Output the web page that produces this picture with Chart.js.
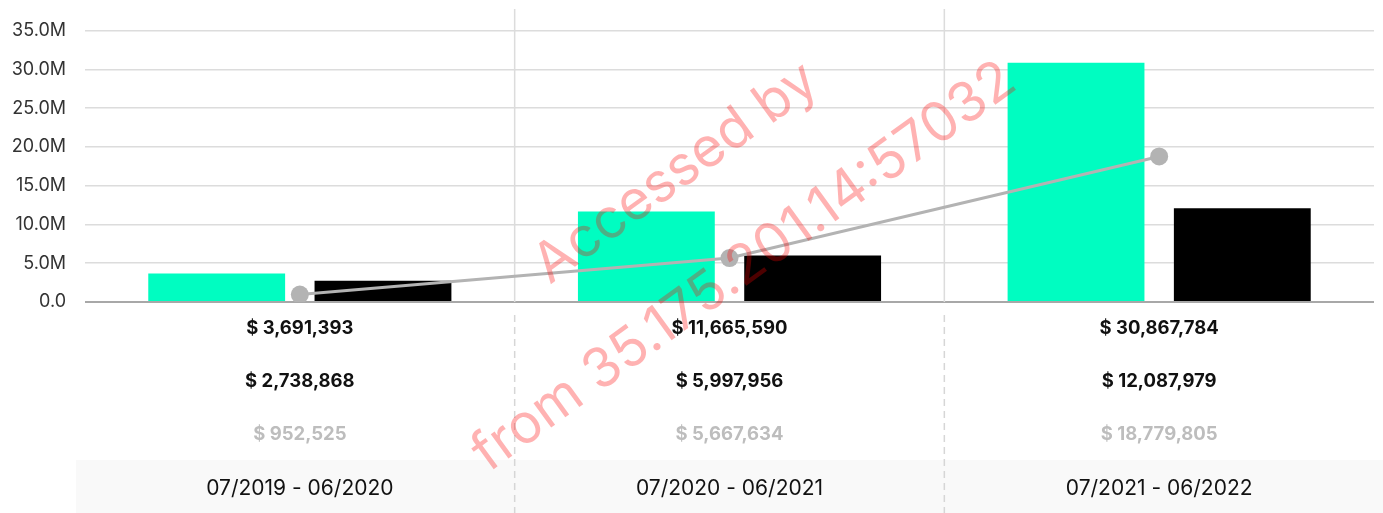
<!DOCTYPE html>
<html>
<head>
<meta charset="utf-8">
<script src="https://cdn.jsdelivr.net/npm/chart.js@4.4.1/dist/chart.umd.min.js"></script>
<style>
  html, body { margin: 0; padding: 0; background: #fff; }
  #wrap { width: 1383px; height: 513px; position: relative; }
</style>
</head>
<body>
<div id="wrap"><canvas id="c" width="1383" height="513"></canvas></div>
<script>
const categories = ['07/2019 - 06/2020', '07/2020 - 06/2021', '07/2021 - 06/2022'];
const seriesGreen = [3691393, 11665590, 30867784];
const seriesBlack = [2738868, 5997956, 12087979];
const seriesLine = [952525, 5667634, 18779805];
const yTicks = [0, 5000000, 10000000, 15000000, 20000000, 25000000, 30000000, 35000000];
const watermarkLines = ['Accessed by', 'from 35.175.201.14:57032'];

const FONT = 'Inter, Lato, sans-serif';
const fmt = v => '$ ' + v.toLocaleString('en-US');

const overlay = {
  id: 'overlay',
  beforeDatasetsDraw(chart) {
    const {ctx, chartArea: a, scales: {x}} = chart;
    ctx.save();
    ctx.strokeStyle = '#dcdcdc';
    ctx.lineWidth = 1.5;
    for (let i = 0; i < categories.length - 1; i++) {
      const px = (x.getPixelForValue(i) + x.getPixelForValue(i + 1)) / 2;
      ctx.beginPath();
      ctx.moveTo(px, a.top);
      ctx.lineTo(px, a.bottom);
      ctx.stroke();
    }
    ctx.restore();
  },
  afterDraw(chart) {
    const {ctx, chartArea: a, scales: {x}} = chart;
    const H = chart.height, W = chart.width;
    ctx.save();
    // bottom band
    ctx.fillStyle = '#f9f9f9';
    ctx.fillRect(76, 460, W - 76, H - 460);
    // dashed dividers
    ctx.strokeStyle = '#d6d6d6';
    ctx.lineWidth = 1.5;
    ctx.setLineDash([7, 5]);
    for (let i = 0; i < categories.length - 1; i++) {
      const px = (x.getPixelForValue(i) + x.getPixelForValue(i + 1)) / 2;
      ctx.beginPath();
      ctx.moveTo(px, a.bottom + 13);
      ctx.lineTo(px, H);
      ctx.stroke();
    }
    ctx.setLineDash([]);
    ctx.textAlign = 'center';
    ctx.textBaseline = 'middle';
    categories.forEach((c, i) => {
      const px = x.getPixelForValue(i);
      ctx.font = 'bold 18.5px ' + FONT;
      ctx.fillStyle = '#111';
      ctx.fillText(fmt(seriesGreen[i]), px, 328);
      ctx.fillText(fmt(seriesBlack[i]), px, 381);
      ctx.fillStyle = '#bdbdbd';
      ctx.fillText(fmt(seriesLine[i]), px, 434);
      ctx.font = '21px ' + FONT;
      ctx.fillStyle = '#111';
      ctx.fillText(c, px, 489);
    });
    // watermark
    ctx.translate(710, 220);
    ctx.rotate(-36 * Math.PI / 180);
    ctx.font = '55px ' + FONT;
    ctx.fillStyle = 'rgba(255,0,0,0.3)';
    ctx.fillText(watermarkLines[0], 0, -58);
    ctx.fillText(watermarkLines[1], 0, 58);
    ctx.restore();
  }
};

new Chart(document.getElementById('c'), {
  data: {
    labels: categories,
    datasets: [
      {
        type: 'line',
        data: seriesLine,
        borderColor: '#b3b3b3',
        backgroundColor: '#b3b3b3',
        borderWidth: 3,
        pointRadius: 9,
        pointHoverRadius: 9,
        pointBackgroundColor: '#b3b3b3',
        pointBorderWidth: 0,
        tension: 0,
        order: 0
      },
      {
        type: 'bar',
        data: seriesGreen,
        backgroundColor: '#00fdc1',
        categoryPercentage: 0.774,
        barPercentage: 0.823,
        order: 1
      },
      {
        type: 'bar',
        data: seriesBlack,
        backgroundColor: '#000000',
        categoryPercentage: 0.774,
        barPercentage: 0.823,
        order: 1
      }
    ]
  },
  options: {
    responsive: false,
    animation: false,
    devicePixelRatio: 1,
    layout: { padding: { top: 8, right: 8, bottom: 211, left: 0 } },
    plugins: { legend: { display: false }, tooltip: { enabled: false } },
    scales: {
      x: { display: false, offset: true },
      y: {
        min: 0,
        max: 37800000,
        afterBuildTicks(scale) { scale.ticks = yTicks.map(v => ({ value: v })); },
        afterFit(scale) { scale.width = 85; scale.paddingTop = 0; scale.paddingBottom = 0; },
        border: { display: false },
        grid: {
          drawTicks: false,
          color: c => (c.tick && c.tick.value === 0) ? '#a8a8a8' : '#dcdcdc',
          lineWidth: c => (c.tick && c.tick.value === 0) ? 2 : 1.5
        },
        ticks: {
          padding: 19,
          color: '#333',
          font: { family: FONT, size: 18 },
          callback: v => v === 0 ? '0.0' : (v / 1e6).toFixed(1) + 'M'
        }
      }
    }
  },
  plugins: [overlay]
});
</script>
</body>
</html>
